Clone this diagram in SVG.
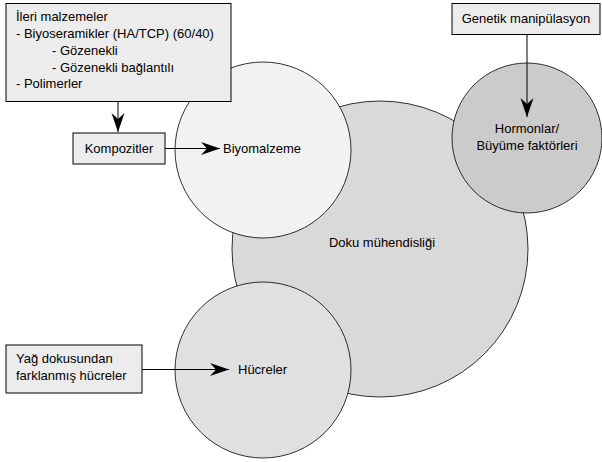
<svg xmlns="http://www.w3.org/2000/svg" width="602" height="462" viewBox="0 0 602 462">
<style>
text{font-family:"Liberation Sans",Arial,sans-serif;font-size:13px;fill:#000}
.c{stroke:#000;stroke-width:0.8}
.b{fill:#ececec;stroke:#000;stroke-width:1}
.e{stroke:#000;stroke-width:1;fill:none}
</style>
<defs>
<marker id="ah" markerWidth="20" markerHeight="14" refX="19" refY="6.5" orient="auto" markerUnits="userSpaceOnUse">
<path d="M0,0 L19,6.5 L0,13 L6,6.5 Z" fill="#000"/>
</marker>
</defs>
<rect width="602" height="462" fill="#fff"/>
<g id="doku">
<circle class="c" cx="380" cy="249" r="148" fill="#d9d9d9"/>
<text x="382" y="247" text-anchor="middle">Doku mühendisliği</text>
</g>
<g id="hormonlar">
<circle class="c" cx="527" cy="138" r="75" fill="#cbcbcb"/>
<text x="527" y="133" text-anchor="middle">Hormonlar/</text>
<text x="527" y="150" text-anchor="middle">Büyüme faktörleri</text>
</g>
<g id="biyomalzeme">
<circle class="c" cx="263" cy="150" r="88" fill="#f2f2f2"/>
<text x="223" y="153">Biyomalzeme</text>
</g>
<g id="hucreler">
<circle class="c" cx="263" cy="370" r="88" fill="#e0e0e0"/>
<text x="238" y="374">Hücreler</text>
</g>
<g id="ileri">
<rect class="b" x="6" y="3.5" width="225" height="98"/>
<text x="16" y="21">İleri malzemeler</text>
<text x="16" y="38">- Biyoseramikler (HA/TCP) (60/40)</text>
<text x="52" y="55">- Gözenekli</text>
<text x="52" y="72">- Gözenekli bağlantılı</text>
<text x="16" y="88">- Polimerler</text>
</g>
<g id="kompozitler">
<rect class="b" x="73" y="133" width="92" height="31"/>
<text x="119" y="153" text-anchor="middle">Kompozitler</text>
</g>
<g id="genetik">
<rect class="b" x="452" y="3.5" width="148" height="31"/>
<text x="526" y="23" text-anchor="middle">Genetik manipülasyon</text>
</g>
<g id="yag">
<rect class="b" x="6" y="345" width="136" height="48"/>
<text x="16" y="363">Yağ dokusundan</text>
<text x="16" y="380">farklanmış hücreler</text>
</g>
<g id="connectors">
<line class="e" x1="118" y1="101.5" x2="118" y2="132" marker-end="url(#ah)"/>
<line class="e" x1="165" y1="148.5" x2="220" y2="148.5" marker-end="url(#ah)"/>
<line class="e" x1="527" y1="34.5" x2="527" y2="117" marker-end="url(#ah)"/>
<line class="e" x1="142" y1="369.5" x2="229" y2="369.5" marker-end="url(#ah)"/>
</g>
</svg>
